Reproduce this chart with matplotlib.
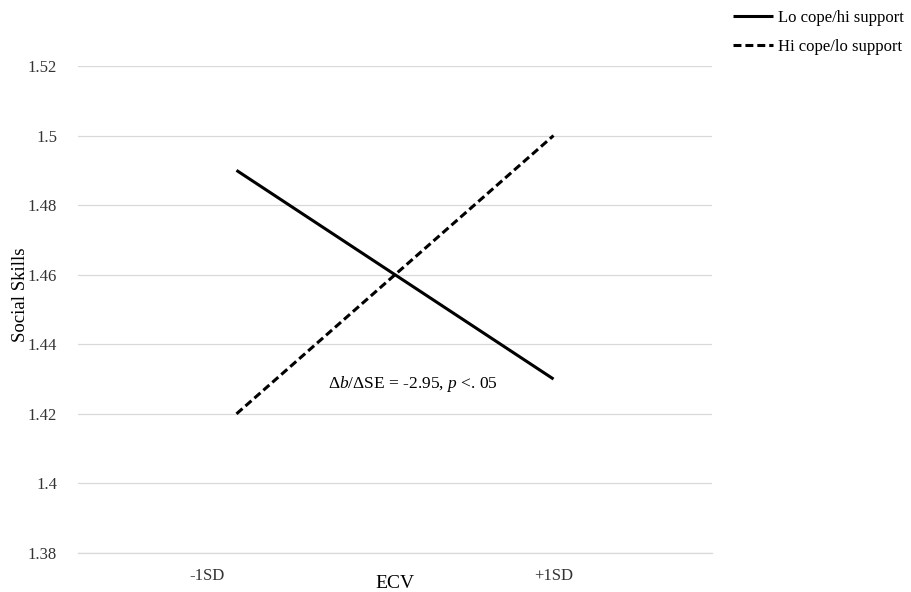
import matplotlib
matplotlib.use('Agg')
import matplotlib.pyplot as plt
from matplotlib import transforms

plt.rcParams['font.family'] = ['Liberation Serif', 'DejaVu Serif']
plt.rcParams['mathtext.fontset'] = 'custom'
plt.rcParams['mathtext.rm'] = 'Liberation Serif'
plt.rcParams['mathtext.it'] = 'Liberation Serif:italic'

categories = ['-1SD', '+1SD']
lo_cope_hi_support = [1.49, 1.43]
hi_cope_lo_support = [1.42, 1.50]
y_ticks = [1.38, 1.40, 1.42, 1.44, 1.46, 1.48, 1.50, 1.52]
y_labels = ['1.38', '1.4', '1.42', '1.44', '1.46', '1.48', '1.5', '1.52']

fig = plt.figure(figsize=(9.11, 5.92), dpi=100)
ax = fig.add_axes([0.0856, 0.0659, 0.696, 0.8226])

x = [0, 1]
ax.plot(x, lo_cope_hi_support, color='black', lw=2.2, solid_capstyle='butt',
        label='Lo cope/hi support')
ax.plot(x, hi_cope_lo_support, color='black', lw=2.2, ls=(0, (2.6, 1.3)),
        label='Hi cope/lo support')

ax.set_xlim(-0.5, 1.5)
ax.set_ylim(1.38, 1.52)
ax.set_yticks(y_ticks)
ax.set_yticklabels(y_labels)
ax.set_xticks(x)
ax.set_xticklabels(categories)
ax.grid(axis='y', color='#d9d9d9', lw=0.9)
ax.set_axisbelow(True)
for s in ['top', 'right', 'left']:
    ax.spines[s].set_visible(False)
ax.spines['bottom'].set_color('#d9d9d9')
ax.spines['bottom'].set_linewidth(0.9)
ax.tick_params(axis='both', length=0, labelsize=12, colors='#333333')
ax.tick_params(axis='y', pad=15)
ax.tick_params(axis='x', pad=11)

# shift -1SD label a bit left as in the original
lbl = ax.get_xticklabels()[0]
lbl.set_transform(lbl.get_transform() + transforms.ScaledTranslation(-0.29, 0, fig.dpi_scale_trans))

ax.set_xlabel('ECV', fontsize=14, va='center')
ax.xaxis.set_label_coords(0.5, -0.062)
ax.set_ylabel('Social Skills', fontsize=13.5)
ax.yaxis.set_label_coords(-0.077, 0.53)

ax.text(0.29, 1.4286, 'Δ$b$/ΔSE = -2.95, $p$ <. 05', fontsize=12.5,
        ha='left', va='center')

fig.legend(loc='upper left', bbox_to_anchor=(0.797, 0.994), frameon=False,
           fontsize=12, handlelength=2.4, handletextpad=0.3, labelspacing=0.75,
           borderaxespad=0)

fig.savefig('out.png', dpi=100)
